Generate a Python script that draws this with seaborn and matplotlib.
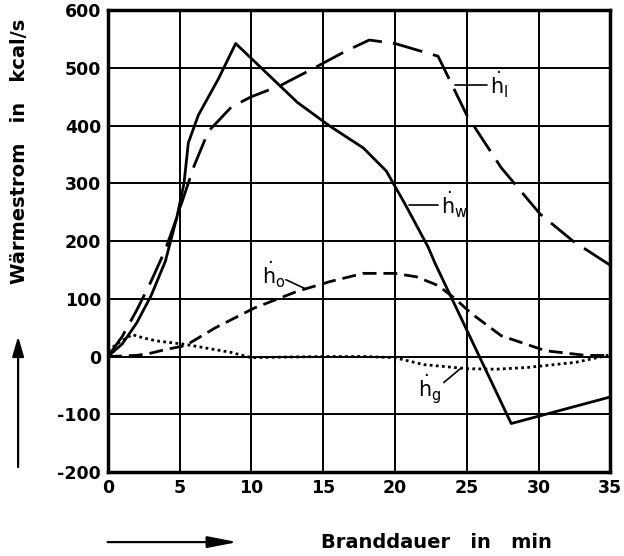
import numpy as np
import pandas as pd
import matplotlib.pyplot as plt
import matplotlib.patches as mpatches
import seaborn as sns

sns.set_style("white")
plt.rcParams["font.family"] = ["DejaVu Sans"]
plt.rcParams["mathtext.fontset"] = "dejavusans"

# ---- data (x in min, y in kcal/s) ----
hw_x = [0, 1, 2, 3, 4, 4.8, 5.3, 5.6, 6.3, 7.7, 8.9, 13.2, 15.4, 17.8, 19.4, 20.7, 22.3, 22.8, 28.1, 35]
hw_y = [0, 22, 58, 105, 165, 241, 300, 370, 418, 481, 542, 440, 400, 361, 321, 264, 190, 161, -116, -70]

hl_x = [0, 1, 2, 3, 4, 4.8, 6, 7, 8.6, 10, 12, 14.4, 16.5, 18.2, 20, 23, 25, 27.4, 30.1, 32.4, 35]
hl_y = [0, 35, 80, 130, 185, 241, 330, 390, 432, 450, 469, 500, 528, 548, 542, 520, 418, 327, 247, 200, 158]

ho_x = [0, 2, 3, 4, 5.4, 7.5, 10.2, 13.2, 15.5, 17.8, 20, 21.5, 23, 24.2, 25.3, 27.4, 30.5, 33.3, 35]
ho_y = [0, 2, 6, 12, 19, 50, 84, 113, 130, 144, 144, 138, 123, 100, 75, 36, 10, 2, 2]

hg_x = [0, 0.8, 1.7, 2.5, 3.4, 5.4, 7, 8.6, 10, 12, 15, 18, 20, 22, 25, 27, 29.2, 32.6, 35]
hg_y = [10, 25, 38, 32, 27, 21, 14, 7, -2, -1, 0, 0, -2, -14, -21, -22, -19, -10, 3]

x_ticks = [0, 5, 10, 15, 20, 25, 30, 35]
y_ticks = [-200, -100, 0, 100, 200, 300, 400, 500, 600]

fig = plt.figure(figsize=(6.24, 5.56), dpi=100)
ax = fig.add_axes([0.173, 0.151, 0.805, 0.831])

for x in x_ticks[1:-1]:
    ax.axvline(x, color="black", lw=1.4, zorder=1)
for y in y_ticks[1:-1]:
    ax.axhline(y, color="black", lw=1.4, zorder=1)

curves = [
    (hw_x, hw_y, None),
    (hl_x, hl_y, (11, 4)),
    (ho_x, ho_y, (5, 2.5)),
    (hg_x, hg_y, (1, 1.2)),
]
for xs, ys, dash in curves:
    df = pd.DataFrame({"t": xs, "q": ys})
    sns.lineplot(data=df, x="t", y="q", ax=ax, color="black", lw=2.0,
                 sort=False, estimator=None, zorder=3)
    if dash is not None:
        ax.lines[-1].set_dashes(dash)

# curve labels with leader lines
lab_kw = dict(fontsize=15, color="black", zorder=4, va="center", ha="left")
ax.text(26.6, 470, r"$\dot{\mathrm{h}}_\mathrm{l}$", **lab_kw)
ax.plot([24.2, 26.4], [470, 470], color="black", lw=1.2)
ax.text(23.2, 262, r"$\dot{\mathrm{h}}_\mathrm{w}$", **lab_kw)
ax.plot([21.0, 23.0], [262, 262], color="black", lw=1.2)
ax.text(10.7, 142, r"$\dot{\mathrm{h}}_\mathrm{o}$", **lab_kw)
ax.plot([12.4, 13.7], [133, 118], color="black", lw=1.2)
ax.text(21.6, -57, r"$\dot{\mathrm{h}}_\mathrm{g}$", **lab_kw)
ax.plot([23.4, 24.6], [-45, -20], color="black", lw=1.2)

ax.set_xlim(0, 35)
ax.set_ylim(-200, 600)
ax.set_xticks(x_ticks)
ax.set_yticks(y_ticks)
ax.set_xticklabels([str(v) for v in x_ticks], fontsize=12.5, fontweight="bold")
ax.set_yticklabels([str(v) for v in y_ticks], fontsize=12.5, fontweight="bold")
ax.tick_params(length=0, pad=5, colors="black")
ax.set_xlabel("")
ax.set_ylabel("")
for s in ax.spines.values():
    s.set_linewidth(2.5)
    s.set_color("black")

fig.text(0.032, 0.727, "Wärmestrom   in   kcal/s", rotation=90, ha="center", va="center",
         fontsize=14, fontweight="bold", color="black")
fig.text(0.70, 0.025, "Branddauer   in   min", ha="center", va="center",
         fontsize=14, fontweight="bold", color="black")
fig.patches.append(mpatches.FancyArrowPatch(
    (0.029, 0.155), (0.029, 0.400), transform=fig.transFigure,
    arrowstyle="-|>,head_length=12,head_width=3.5", color="black", lw=1.6))
fig.patches.append(mpatches.FancyArrowPatch(
    (0.168, 0.025), (0.385, 0.025), transform=fig.transFigure,
    arrowstyle="-|>,head_length=18,head_width=3.5", color="black", lw=1.6))

fig.savefig("out.png", dpi=100)
